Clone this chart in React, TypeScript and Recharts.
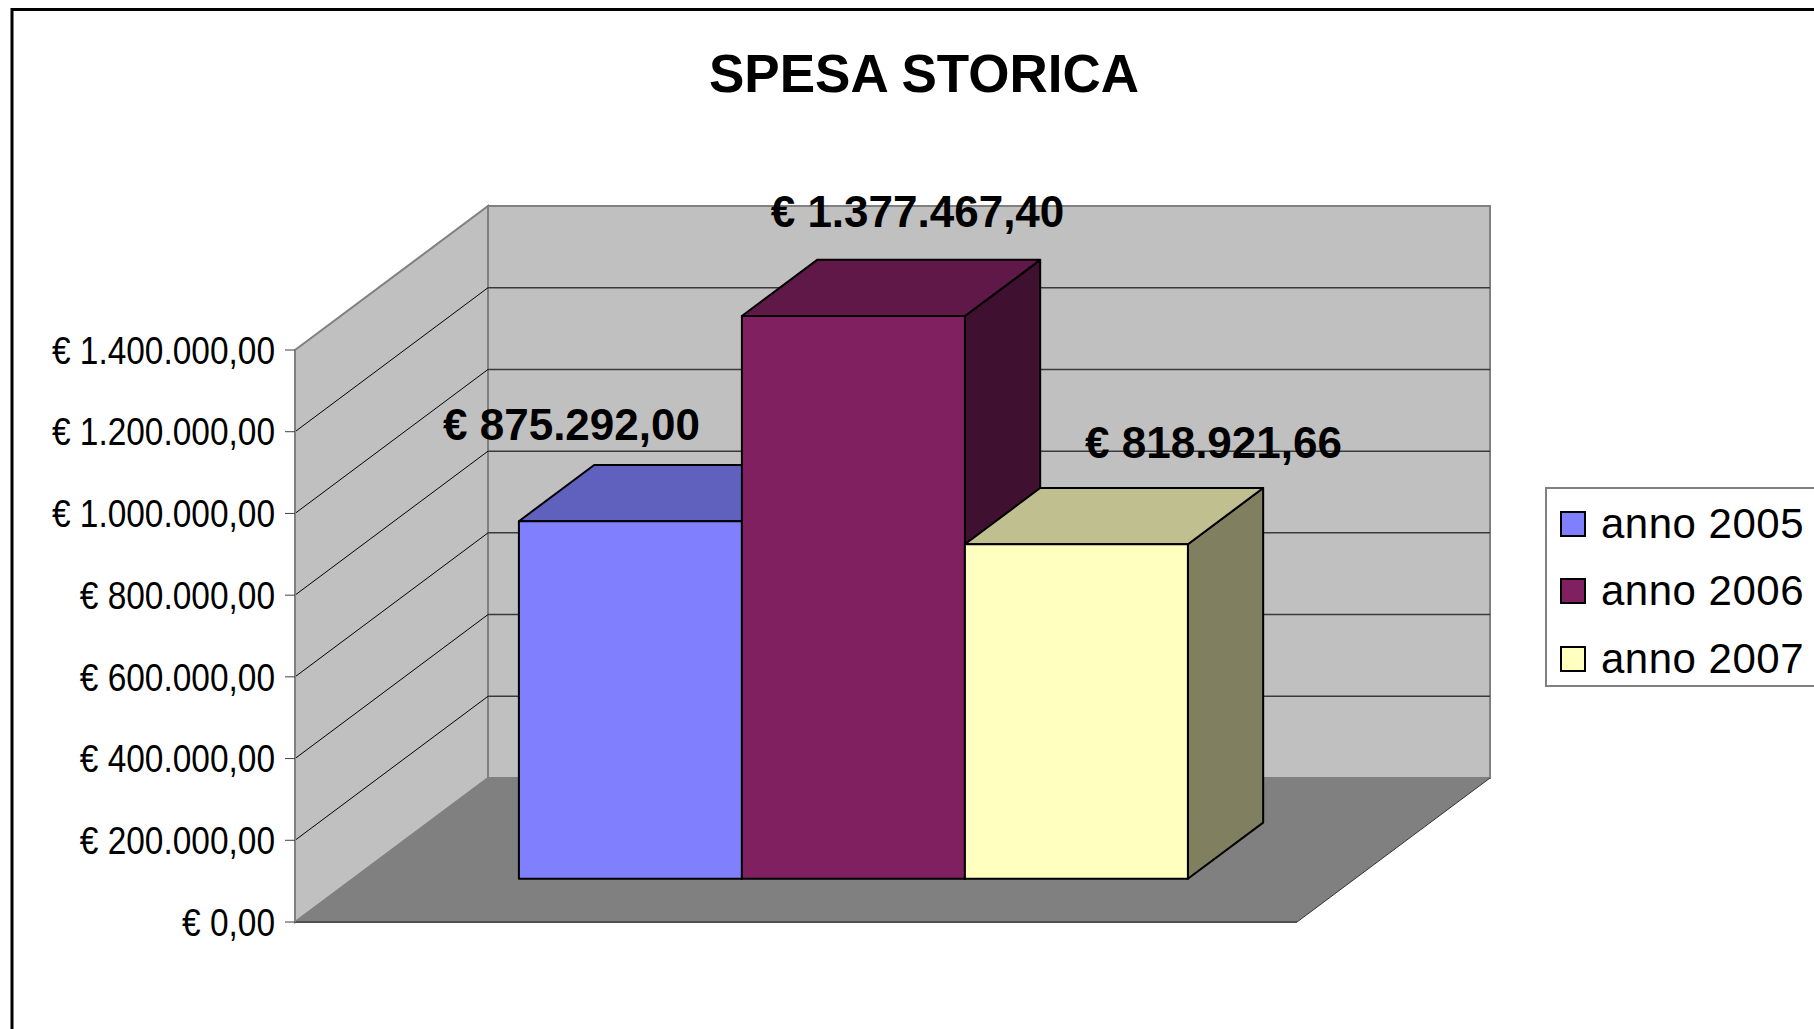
import React from "react";
import { BarChart, Bar, XAxis, YAxis, CartesianGrid, Legend, LabelList } from "recharts";

// data
const CATEGORY = "Spesa storica";
const SERIES = ["anno 2005", "anno 2006", "anno 2007"];
const VALUES = [875292.0, 1377467.4, 818921.66];
const COLORS = ["#8080FF", "#802060", "#FFFFC0"];
const Y_TICKS = [0, 200000, 400000, 600000, 800000, 1000000, 1200000, 1400000];

const data = [
  SERIES.reduce((row: any, _s, i) => ({ ...row, ["v" + i]: VALUES[i] }), { name: CATEGORY }),
];

// layout of the fake 3d box
const W = 1814;
const H = 1029;
const LEFT = 295;
const RIGHT = 1297;
const TOP = 350;
const BOTTOM = 922;
const DX = 193;
const DY = -144;
const D0 = 0.3;
const D1 = 0.69;
const YAXIS_W = 290;
const XAXIS_H = 2;
const LABEL_OFFSET = [
  { dx: -1, dy: -124 },
  { dx: 122, dy: -132 },
  { dx: 195, dy: -129 },
];
const FONT = "'Liberation Sans', Arial, sans-serif";

const euro = (v: number) => {
  const [i, d] = v.toFixed(2).split(".");
  return "€ " + i.replace(/\B(?=(\d{3})+(?!\d))/g, ".") + "," + d;
};

const shade = (hex: string, f: number) => {
  const n = parseInt(hex.slice(1), 16);
  const c = [(n >> 16) & 255, (n >> 8) & 255, n & 255].map((v) => Math.round(v * f));
  return `rgb(${c[0]},${c[1]},${c[2]})`;
};

function Box3D(props: any) {
  const { x, y, width, height, fill } = props;
  if (width == null || height == null) return null;
  const ax = x + D0 * DX;
  const ay = y + D0 * DY;
  const bx = D1 * DX - D0 * DX;
  const by = D1 * DY - D0 * DY;
  const top = `${ax},${ay} ${ax + width},${ay} ${ax + width + bx},${ay + by} ${ax + bx},${ay + by}`;
  const side = `${ax + width},${ay} ${ax + width + bx},${ay + by} ${ax + width + bx},${ay + height + by} ${ax + width},${ay + height}`;
  return (
    <g stroke="#000" strokeWidth={2} strokeLinejoin="round">
      <polygon points={side} fill={shade(fill, 0.5)} />
      <polygon points={top} fill={shade(fill, 0.75)} />
      <rect x={ax} y={ay} width={width} height={height} fill={fill} />
    </g>
  );
}

function GridLine(props: any) {
  const { x1, y1, x2 } = props;
  if (Math.abs(y1 - TOP) < 2 || Math.abs(y1 - BOTTOM) < 2) return <g key={props.key} />;
  return (
    <g key={props.key}>
      <line x1={x1} y1={y1} x2={x1 + DX} y2={y1 + DY} stroke="#000" strokeWidth={1} />
      <line x1={x1 + DX} y1={y1 + DY} x2={x2 + DX} y2={y1 + DY} stroke="#3a3a3a" strokeWidth={1.5} />
    </g>
  );
}

// narrow-looking tick labels, like the original Arial rendering
function YTick(props: any) {
  const { x, y, payload } = props;
  return (
    <text
      transform={`translate(${x},${y}) scale(0.88,1)`}
      textAnchor="end"
      dy="0.36em"
      fontFamily={FONT}
      fontSize={38}
      fill="#000"
    >
      {euro(payload.value)}
    </text>
  );
}

const makeLabel = (s: number) => (props: any) => {
  const vb = props.viewBox && props.viewBox.width != null ? props.viewBox : props;
  const { x, y, width } = vb;
  const o = LABEL_OFFSET[s];
  return (
    <text
      x={x + width / 2 + o.dx}
      y={y + o.dy}
      textAnchor="middle"
      fontFamily={FONT}
      fontWeight="bold"
      fontSize={44}
      fill="#000"
    >
      {euro(Number(props.value))}
    </text>
  );
};

function LegendBox({ payload }: any) {
  return (
    <div
      style={{
        width: 320,
        height: 200,
        border: "2px solid #808080",
        boxSizing: "border-box",
        background: "#fff",
        paddingTop: 1,
      }}
    >
      {(payload || []).map((p: any) => (
        <div key={p.value} style={{ display: "flex", alignItems: "center", height: 67.5 }}>
          <span
            style={{
              display: "inline-block",
              width: 26,
              height: 26,
              boxSizing: "border-box",
              border: "2px solid #000",
              background: p.color,
              marginLeft: 13,
            }}
          />
          <span
            style={{ marginLeft: 15, fontSize: 42, fontFamily: FONT, color: "#000", lineHeight: 1, letterSpacing: 0.5 }}
          >
            {p.value}
          </span>
        </div>
      ))}
    </div>
  );
}

function Walls() {
  const bl = LEFT + DX;
  const bt = TOP + DY;
  const bb = BOTTOM + DY;
  const br = RIGHT + DX;
  return (
    <svg width={W} height={H} style={{ position: "absolute", left: 0, top: 0 }}>
      <path d={`M12 ${H + 20} L12 9.5 L${W + 20} 9.5`} fill="none" stroke="#000" strokeWidth={3} />
      <text x={924} y={92} textAnchor="middle" fontFamily={FONT} fontWeight="bold" fontSize={53} fill="#000">
        SPESA STORICA
      </text>
      <polygon
        points={`${LEFT},${TOP} ${bl},${bt} ${bl},${bb} ${LEFT},${BOTTOM}`}
        fill="#C0C0C0"
        stroke="#808080"
        strokeWidth={2}
      />
      <rect x={bl} y={bt} width={RIGHT - LEFT} height={BOTTOM - TOP} fill="#C0C0C0" stroke="#808080" strokeWidth={2} />
      <polygon points={`${LEFT},${BOTTOM} ${RIGHT},${BOTTOM} ${br},${bb} ${bl},${bb}`} fill="#808080" />
      <line x1={RIGHT} y1={BOTTOM} x2={br} y2={bb} stroke="#333" strokeWidth={1} />
    </svg>
  );
}

export default function App() {
  return (
    <div style={{ position: "absolute", left: 0, top: 0, width: W, height: H, overflow: "hidden", background: "#fff" }}>
      <Walls />
      <div style={{ position: "absolute", left: 0, top: 0 }}>
        <BarChart
          width={W}
          height={H}
          data={data}
          barGap={0}
          barCategoryGap={166}
          margin={{ top: TOP, left: LEFT - YAXIS_W, right: W - RIGHT, bottom: H - BOTTOM - XAXIS_H }}
        >
          <CartesianGrid vertical={false} horizontal={(p: any) => <GridLine {...p} />} />
          <XAxis dataKey="name" tick={false} tickLine={false} height={XAXIS_H} axisLine={{ stroke: "#505050", strokeWidth: 2 }} />
          <YAxis
            width={YAXIS_W}
            domain={[0, 1400000]}
            ticks={Y_TICKS}
            tickSize={10}
            tickMargin={10}
            axisLine={{ stroke: "#808080", strokeWidth: 2 }}
            tickLine={{ stroke: "#404040", strokeWidth: 1 }}
            tick={<YTick />}
            interval={0}
          />
          <Legend
            layout="vertical"
            align="center"
            verticalAlign="middle"
            content={<LegendBox />}
            wrapperStyle={{ left: 1545, top: 487, width: 320, height: 200 }}
          />
          {SERIES.map((s, i) => (
            <Bar key={s} dataKey={"v" + i} name={s} fill={COLORS[i]} shape={<Box3D />} isAnimationActive={false}>
              <LabelList dataKey={"v" + i} content={makeLabel(i)} />
            </Bar>
          ))}
        </BarChart>
      </div>
    </div>
  );
}
